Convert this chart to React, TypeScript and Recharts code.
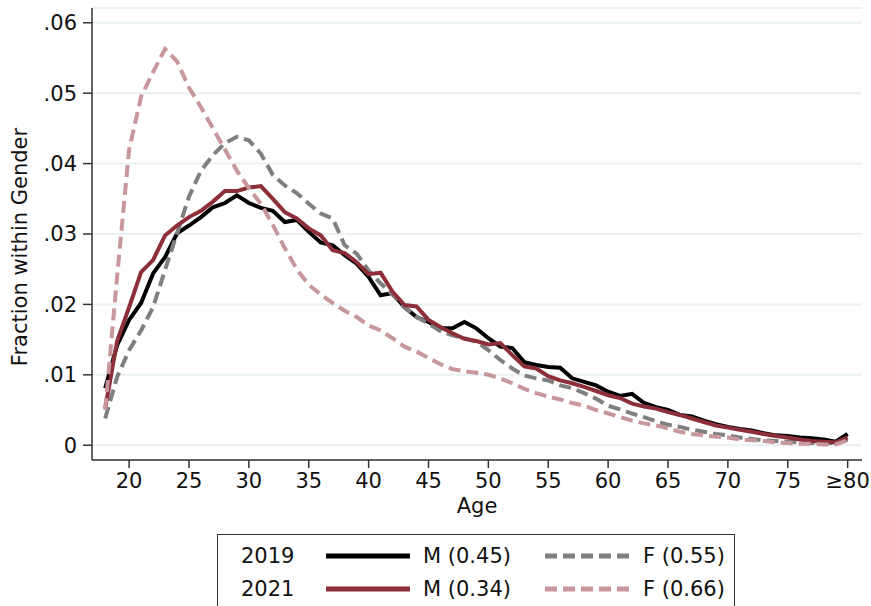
import { LineChart, Line, XAxis, YAxis, CartesianGrid } from 'recharts';

const ages = [
  18, 19, 20, 21, 22, 23, 24, 25, 26, 27, 28, 29, 30, 31, 32, 33, 34, 35, 36, 37, 38, 39, 40,
  41, 42, 43, 44, 45, 46, 47, 48, 49, 50, 51, 52, 53, 54, 55, 56, 57, 58, 59, 60,
  61, 62, 63, 64, 65, 66, 67, 68, 69, 70, 71, 72, 73, 74, 75, 76, 77, 78, 79, 80,
];

const male2019 = [
  0.0081, 0.0142, 0.0178, 0.0202, 0.0244, 0.0267, 0.0301, 0.0312, 0.0324, 0.0338, 0.0344, 0.0355, 0.0344,
  0.0337, 0.0333, 0.0317, 0.032, 0.0303, 0.0288, 0.0284, 0.027, 0.0258, 0.0239,
  0.0213, 0.0216, 0.0196, 0.0182, 0.0175, 0.0166, 0.0166, 0.0175, 0.0166, 0.0152,
  0.014, 0.0138, 0.0118, 0.0114, 0.0111, 0.011, 0.0095, 0.009, 0.0085, 0.0076,
  0.007, 0.0073, 0.006, 0.0054, 0.005, 0.0043, 0.0041, 0.0035, 0.003, 0.0026,
  0.0023, 0.0021, 0.0017, 0.0014, 0.0013, 0.0011, 0.001, 0.0008, 0.0005, 0.0016,
];

const female2019 = [
  0.0038, 0.0097, 0.0135, 0.0163, 0.0196, 0.0249, 0.0301, 0.0353, 0.039, 0.0412, 0.0429, 0.0438, 0.0433,
  0.0414, 0.0384, 0.0369, 0.0358, 0.0343, 0.0329, 0.0322, 0.0284, 0.0272, 0.0248,
  0.023, 0.0214, 0.0196, 0.0182, 0.0173, 0.0162, 0.0156, 0.0152, 0.0147, 0.0135,
  0.0121, 0.0109, 0.0099, 0.0095, 0.0092, 0.0085, 0.0081, 0.0074, 0.0066, 0.0056,
  0.0051, 0.0045, 0.004, 0.0034, 0.0029, 0.0026, 0.0022, 0.0019, 0.0016, 0.0014,
  0.0011, 0.0009, 0.0007, 0.0006, 0.0005, 0.0004, 0.0003, 0.0003, 0.0003, 0.0008,
];

const male2021 = [
  0.0052, 0.0148, 0.0196, 0.0246, 0.0263, 0.0298, 0.0312, 0.0324, 0.0333, 0.0346, 0.0361, 0.0361, 0.0366,
  0.0368, 0.035, 0.0331, 0.0322, 0.0308, 0.0298, 0.0277, 0.0273, 0.026, 0.0243,
  0.0245, 0.0218, 0.0199, 0.0197, 0.0178, 0.0168, 0.0159, 0.0151, 0.0148, 0.0143,
  0.0145, 0.0128, 0.0112, 0.0109, 0.0098, 0.0092, 0.0088, 0.0083, 0.0077, 0.0071,
  0.0067, 0.0059, 0.0055, 0.0052, 0.0047, 0.0043, 0.0038, 0.0033, 0.0028, 0.0025,
  0.0022, 0.0019, 0.0016, 0.0013, 0.0011, 0.0008, 0.0006, 0.0005, 0.0004, 0.0011,
];

const female2021 = [
  0.005, 0.024, 0.042, 0.0495, 0.053, 0.0563, 0.0545, 0.0508, 0.048, 0.045, 0.042, 0.039, 0.0365,
  0.0343, 0.0313, 0.028, 0.025, 0.0228, 0.0214, 0.0202, 0.0191, 0.0182, 0.017,
  0.0163, 0.0152, 0.014, 0.0133, 0.0124, 0.0115, 0.0108, 0.0105, 0.0103, 0.01,
  0.0095, 0.0088, 0.008, 0.0074, 0.0069, 0.0065, 0.006, 0.0056, 0.005, 0.0045,
  0.004, 0.0035, 0.0031, 0.0028, 0.0024, 0.0019, 0.0016, 0.0014, 0.0012, 0.0011,
  0.0008, 0.0007, 0.0006, 0.0004, 0.0003, 0.0002, 0.0002, 0.0001, 0.0001, 0.0007,
];

const xTicks = [20, 25, 30, 35, 40, 45, 50, 55, 60, 65, 70, 75, 80];
const yTicks = [0, 0.01, 0.02, 0.03, 0.04, 0.05, 0.06];

const BLACK = '#000000';
const GRAY = '#7f7f7f';
const RED = '#8c2f38';
const PINK = '#c8979b';
const FONT = 'DejaVu Sans, sans-serif';

const data = ages.map((age, i) => ({
  age,
  m2019: male2019[i],
  f2019: female2019[i],
  m2021: male2021[i],
  f2021: female2021[i],
}));

const fmtY = (v: number) => (v === 0 ? '0' : v.toFixed(2).replace(/^0/, ''));
const fmtX = (v: number) => (v === 80 ? '≥80' : String(v));

const LegendSample = ({ color, dashed }: { color: string; dashed?: boolean }) => (
  <svg width={84} height={10} style={{ position: 'absolute', overflow: 'visible' }}>
    <line x1={0} y1={5} x2={84} y2={5} stroke={color} strokeWidth={5} strokeDasharray={dashed ? '12 6' : undefined} />
  </svg>
);

const legendText: React.CSSProperties = { position: 'absolute', fontSize: 21, lineHeight: '24px', color: '#111' };

const App = () => {
  return (
    <div style={{ position: 'absolute', left: 0, top: 0, width: 871, height: 606, background: '#fff', fontFamily: FONT, overflow: 'hidden' }}>
      <LineChart width={871} height={606} data={data} margin={{ top: 8, right: 9, left: 0, bottom: 81 }}>
        <CartesianGrid vertical={false} stroke="#e9f1f3" strokeWidth={2} />
        <XAxis
          dataKey="age"
          type="number"
          domain={[16.9, 81.2]}
          ticks={xTicks}
          tickFormatter={fmtX}
          allowDataOverflow
          height={65}
          tickSize={8}
          tickMargin={5}
          stroke="#333"
          strokeWidth={1.5}
          tick={{ fill: '#111', fontSize: 21, fontFamily: FONT }}
          label={{ value: 'Age', position: 'insideBottom', offset: 12, fill: '#111', fontSize: 21, fontFamily: FONT }}
        />
        <YAxis
          type="number"
          domain={[-0.0021, 0.0621]}
          ticks={yTicks}
          tickFormatter={fmtY}
          allowDataOverflow
          width={92}
          tickSize={9}
          tickMargin={6}
          stroke="#333"
          strokeWidth={1.5}
          tick={{ fill: '#111', fontSize: 21, fontFamily: FONT }}
          label={{
            content: () => (
              <text x={27} y={247} transform="rotate(-90 27 247)" textAnchor="middle" fill="#111" fontSize={21} fontFamily={FONT}>
                Fraction within Gender
              </text>
            ),
          }}
        />
        <Line dataKey="m2019" stroke={BLACK} strokeWidth={4} dot={false} isAnimationActive={false} />
        <Line dataKey="f2019" stroke={GRAY} strokeWidth={4} strokeDasharray="12 6" dot={false} isAnimationActive={false} />
        <Line dataKey="m2021" stroke={RED} strokeWidth={4} dot={false} isAnimationActive={false} />
        <Line dataKey="f2021" stroke={PINK} strokeWidth={4} strokeDasharray="12 6" dot={false} isAnimationActive={false} />
      </LineChart>
      <div style={{ position: 'absolute', left: 217, top: 534, width: 518, height: 90, border: '1px solid #333', boxSizing: 'border-box' }}>
        <span style={{ ...legendText, left: 23, top: 9 }}>2019</span>
        <div style={{ position: 'absolute', left: 108, top: 16 }}><LegendSample color={BLACK} /></div>
        <span style={{ ...legendText, left: 205, top: 9 }}>M (0.45)</span>
        <div style={{ position: 'absolute', left: 327, top: 16 }}><LegendSample color={GRAY} dashed /></div>
        <span style={{ ...legendText, left: 425, top: 9 }}>F (0.55)</span>
        <span style={{ ...legendText, left: 23, top: 42 }}>2021</span>
        <div style={{ position: 'absolute', left: 108, top: 49 }}><LegendSample color={RED} /></div>
        <span style={{ ...legendText, left: 205, top: 42 }}>M (0.34)</span>
        <div style={{ position: 'absolute', left: 327, top: 49 }}><LegendSample color={PINK} dashed /></div>
        <span style={{ ...legendText, left: 425, top: 42 }}>F (0.66)</span>
      </div>
    </div>
  );
};

export default App;
